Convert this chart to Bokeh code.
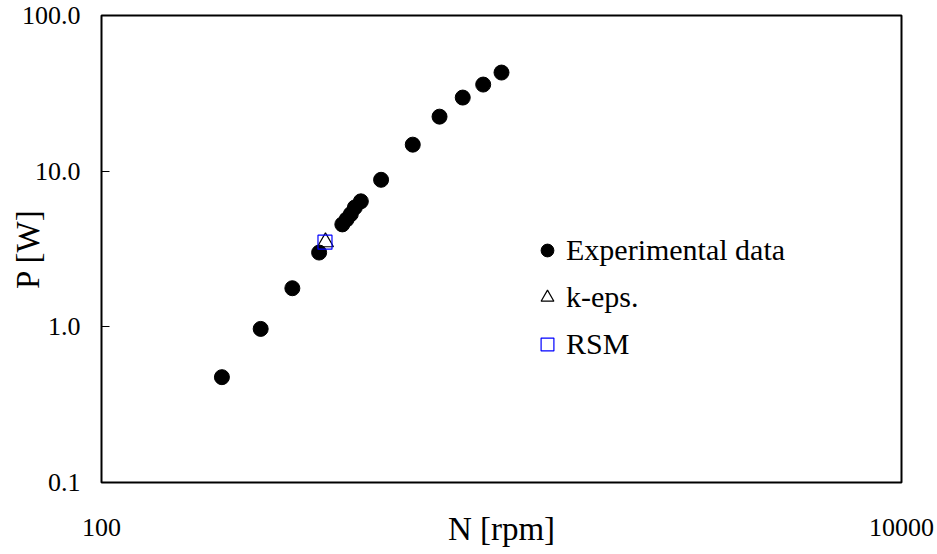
from bokeh.plotting import figure
from bokeh.models import FixedTicker, CustomJSTickFormatter, Legend, LegendItem
from bokeh.embed import file_html
from bokeh.resources import INLINE

# Data
n_exp = [200, 250, 300, 350, 400, 410, 420, 430, 445, 500, 600, 700, 800, 900, 1000]
p_exp = [0.475, 0.97, 1.77, 3.0, 4.55, 4.9, 5.3, 5.85, 6.4, 8.8, 14.8, 22.4, 29.7, 36.0, 43.0]
n_keps = [363]
p_keps = [3.5]
n_rsm = [362]
p_rsm = [3.5]

x_ticks = [100, 10000]
y_ticks = [0.1, 1, 10, 100]
series_labels = ["Experimental data", "k-eps.", "RSM"]
x_title = "N [rpm]"
y_title = "P [W]"

FONT = "Liberation Serif"

p = figure(width=937, height=554, x_axis_type="log", y_axis_type="log",
           x_range=(100, 10000), y_range=(0.1, 100),
           output_backend="svg", toolbar_location=None,
           min_border_left=101, min_border_right=36,
           min_border_top=15, min_border_bottom=72)
p.background_fill_color = "white"
p.border_fill_color = "white"
p.outline_line_color = "black"
p.outline_line_width = 2
p.xgrid.visible = False
p.ygrid.visible = False

r_exp = p.scatter(n_exp, p_exp, marker="circle", size=15,
                  fill_color="black", line_color="black")
r_keps = p.scatter(n_keps, p_keps, marker="triangle", size=16,
                   fill_color=None, line_color="black", line_width=1.2)
r_rsm = p.scatter(n_rsm, p_rsm, marker="square", size=14,
                  fill_color=None, line_color="#0000FF", line_width=1.2)

# X axis
xa = p.xaxis[0]
xa.ticker = FixedTicker(ticks=x_ticks, minor_ticks=[])
xa.formatter = CustomJSTickFormatter(code="return tick.toFixed(0)")
xa.axis_line_color = None
xa.major_tick_line_color = None
xa.minor_tick_line_color = None
xa.major_label_standoff = 30
xa.major_label_text_font = FONT
xa.major_label_text_font_size = "26px"
xa.major_label_text_font_style = "normal"
xa.major_label_text_color = "black"
xa.axis_label = x_title
xa.axis_label_text_font = FONT
xa.axis_label_text_font_size = "33px"
xa.axis_label_text_font_style = "normal"
xa.axis_label_text_color = "black"
xa.axis_label_standoff = -28

# Y axis
ya = p.yaxis[0]
ya.ticker = FixedTicker(ticks=y_ticks, minor_ticks=[])
ya.formatter = CustomJSTickFormatter(code="return tick.toFixed(1)")
ya.axis_line_color = None
ya.major_tick_in = 8
ya.major_tick_out = 0
ya.major_tick_line_color = "black"
ya.major_tick_line_width = 1
ya.minor_tick_line_color = None
ya.major_label_standoff = 21
ya.major_label_text_font = FONT
ya.major_label_text_font_size = "26px"
ya.major_label_text_font_style = "normal"
ya.major_label_text_color = "black"
ya.axis_label = y_title
ya.axis_label_text_font = FONT
ya.axis_label_text_font_size = "33px"
ya.axis_label_text_font_style = "normal"
ya.axis_label_text_color = "black"
ya.axis_label_standoff = -27

legend = Legend(items=[
    LegendItem(label=series_labels[0], renderers=[r_exp]),
    LegendItem(label=series_labels[1], renderers=[r_keps]),
    LegendItem(label=series_labels[2], renderers=[r_rsm]),
], location=(430, 121))
legend.border_line_color = None
legend.background_fill_alpha = 0
legend.padding = 0
legend.margin = 0
legend.glyph_width = 32
legend.glyph_height = 34
legend.spacing = 13
legend.label_standoff = 3
legend.label_text_font = FONT
legend.label_text_font_size = "30px"
legend.label_text_font_style = "normal"
legend.label_text_color = "black"
p.add_layout(legend, "center")

open("out.html", "w").write(file_html(p, INLINE))
